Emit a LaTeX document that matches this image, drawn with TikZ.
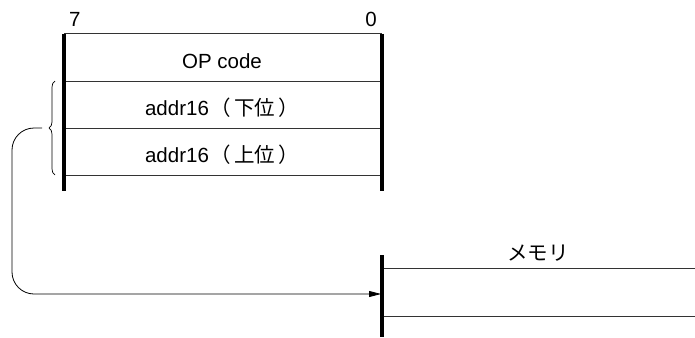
\documentclass[tikz,border=0pt]{standalone}
\usepackage{fontspec}
\setmainfont{Liberation Sans}
\newfontfamily\jpfont{Noto Sans CJK JP}
\usetikzlibrary{arrows.meta,decorations.pathreplacing}
\tikzset{
  thickln/.style={line width=3.2pt},
  thinln/.style={line width=1pt, draw=black!80},
  lbl/.style={font=\fontsize{20.5}{24}\selectfont, inner sep=0pt},
}
\begin{document}
\begin{tikzpicture}[x=1pt,y=-1pt]
\useasboundingbox (0,0) rectangle (695,337);
% register box
\draw[thinln] (64,34) -- (382,34);
\draw[thinln] (64,81) -- (382,81);
\draw[thinln] (64,128) -- (382,128);
\draw[thinln] (64,175) -- (382,175);
\draw[thickln] (64,34) -- (64,191);
\draw[thickln] (382,34) -- (382,191);
\node[lbl, anchor=base west] (b7) at (69,27) {7};
\node[lbl, anchor=base east] (b0) at (377,27) {0};
\node[lbl, anchor=base] (op) at (222,68) {OP code};
\node[lbl, anchor=base] (lo) at (222,115) {addr16\hspace{2pt}\jpfont（\hspace{3pt}下位\hspace{3pt}）};
\node[lbl, anchor=base] (hi) at (222,162) {addr16\hspace{2pt}\jpfont（\hspace{3pt}上位\hspace{3pt}）};
% brace
\draw[line width=0.7pt, decorate, decoration={brace, amplitude=6pt}] (55,175) -- (55,81);
\coordinate (bt) at (42,128);
% memory
\draw[thinln] (382,268) -- (695,268);
\draw[thinln] (382,316) -- (695,316);
\draw[thickln] (382,255) -- (382,337);
\node[lbl, anchor=base] (memlbl) at (538,260) {\jpfont メモリ};
\coordinate (mem) at (381,294);
% connector
\draw[line width=0.8pt, rounded corners=22pt, -{Triangle[length=12pt,width=6pt]}] (bt) -- (12,128) -- (12,294) -- (mem);
\end{tikzpicture}
\end{document}
